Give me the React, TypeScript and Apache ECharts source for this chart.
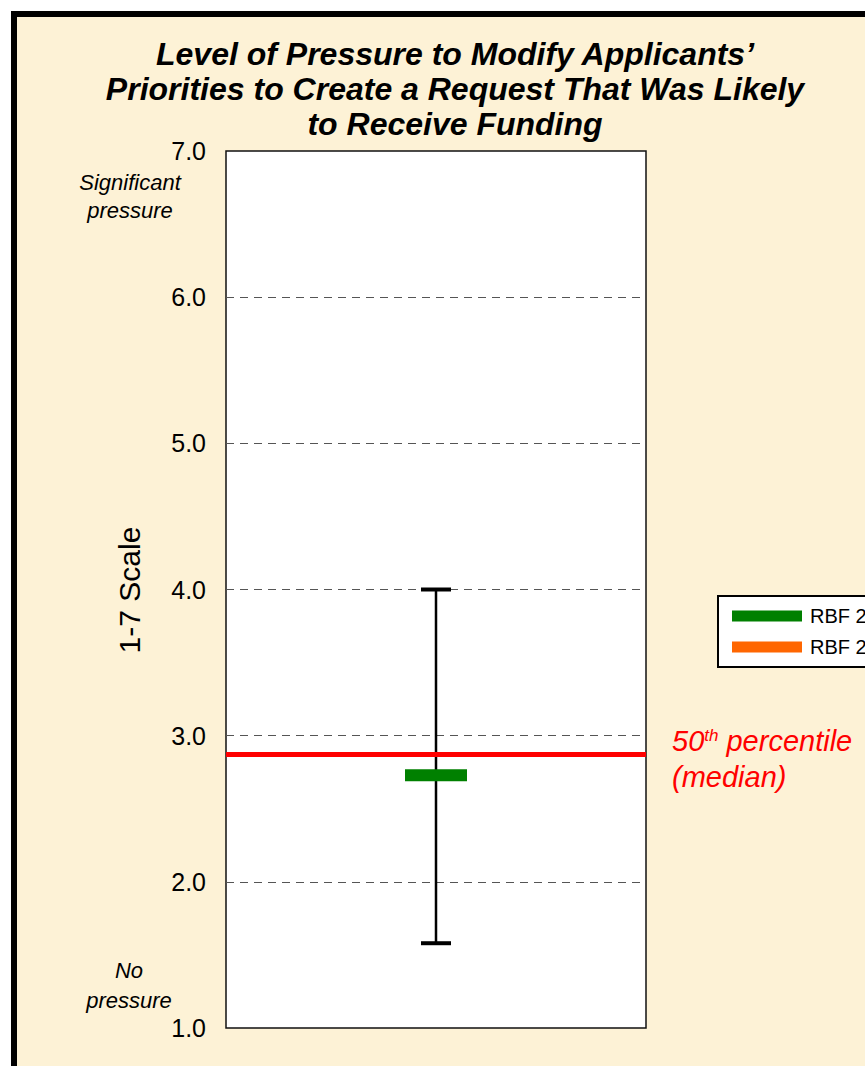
import React, { useEffect, useRef } from "react";
import * as echarts from "echarts";

const titleLines = [
  "Level of Pressure to Modify Applicants’",
  "Priorities to Create a Request That Was Likely",
  "to Receive Funding",
];
const categories = ["RBF"];
const seriesNames = ["RBF 2011", "RBF 2012"];
const meanValues = [2.73];
const lowValues = [1.58];
const highValues = [4.0];
const medianValue = 2.87;
const yMin = 1;
const yMax = 7;
const yInterval = 1;
const topNote = ["Significant", "pressure"];
const bottomNote = ["No", "pressure"];
const axisTitle = "1-7 Scale";

const FONT = "'Liberation Sans', Arial, sans-serif";

export default function App() {
  const ref = useRef<HTMLDivElement>(null);
  useEffect(() => {
    if (!ref.current) return;
    const chart = echarts.init(ref.current, undefined, { renderer: "svg" });
    const errData = categories.map((c, i) => [i, lowValues[i], highValues[i]]);
    const option: any = {
      animation: false,
      backgroundColor: "#ffffff",
      title: {
        text: titleLines.join("\n"),
        left: 450,
        top: 31,
        padding: 5,
        textAlign: "center",
        textStyle: {
          fontFamily: FONT,
          fontSize: 32,
          fontWeight: "bold",
          fontStyle: "italic",
          color: "#000",
          lineHeight: 35,
        },
      },
      legend: {
        orient: "vertical",
        left: 718,
        top: 596,
        padding: [10, 40, 10, 14],
        itemGap: 11,
        itemWidth: 70,
        itemHeight: 11,
        icon: "rect",
        borderColor: "#000",
        borderWidth: 2,
        backgroundColor: "#fff",
        textStyle: { fontFamily: FONT, fontSize: 20, color: "#000", lineHeight: 20, padding: [0, 0, 0, 3] },
        data: seriesNames,
      },
      grid: {
        left: 226,
        right: 219,
        top: 151,
        bottom: 38,
        show: true,
        backgroundColor: "#ffffff",
        borderColor: "#111",
        borderWidth: 1.5,
      },
      xAxis: {
        type: "category",
        data: categories,
        axisLine: { show: false },
        axisTick: { show: false },
        axisLabel: { show: false },
        splitLine: { show: false },
      },
      yAxis: {
        type: "value",
        min: yMin,
        max: yMax,
        interval: yInterval,
        axisLine: { show: false },
        axisTick: { show: false },
        axisLabel: {
          formatter: (v: number) => v.toFixed(1),
          fontFamily: FONT,
          fontSize: 25,
          color: "#000",
          margin: 20,
        },
        splitLine: {
          show: true,
          showMinLine: false,
          showMaxLine: false,
          lineStyle: { color: "#555", width: 1, type: [8, 6] },
        },
      },
      graphic: [
        {
          type: "rect",
          z: -10,
          shape: { x: 14, y: 14, width: 900, height: 1100 },
          style: { fill: "#FDF2D6", stroke: "#000", lineWidth: 6 },
        },
        {
          type: "text",
          x: 129,
          y: 590,
          rotation: Math.PI / 2,
          z: 10,
          style: {
            text: axisTitle,
            fill: "#000",
            font: `30px ${FONT}`,
            align: "center",
            verticalAlign: "middle",
          },
        },
        {
          type: "text",
          x: 130,
          y: 196,
          z: 10,
          style: {
            text: topNote.join("\n"),
            fill: "#000",
            font: `italic 22px ${FONT}`,
            align: "center",
            verticalAlign: "middle",
            lineHeight: 28,
          },
        },
        {
          type: "text",
          x: 129,
          y: 985,
          z: 10,
          style: {
            text: bottomNote.join("\n"),
            fill: "#000",
            font: `italic 22px ${FONT}`,
            align: "center",
            verticalAlign: "middle",
            lineHeight: 30,
          },
        },
        {
          type: "text",
          x: 672,
          y: 741,
          z: 10,
          style: {
            text: "{a|50}{s|th}{a| percentile}",
            align: "left",
            verticalAlign: "middle",
            rich: {
              a: { fontFamily: FONT, fontSize: 29, fontStyle: "italic", fill: "#FF0000", color: "#FF0000" },
              s: { fontFamily: FONT, fontSize: 17, fontStyle: "italic", fill: "#FF0000", color: "#FF0000", verticalAlign: "top" },
            },
          },
        },
        {
          type: "text",
          x: 672,
          y: 777,
          z: 10,
          style: {
            text: "(median)",
            fill: "#FF0000",
            font: `italic 29px ${FONT}`,
            align: "left",
            verticalAlign: "middle",
          },
        },
      ],
      series: [
        {
          type: "custom",
          name: "range",
          z: 2,
          encode: { x: 0, y: [1, 2] },
          data: errData,
          renderItem: (params: any, api: any) => {
            const lo = api.coord([api.value(0), api.value(1)]);
            const hi = api.coord([api.value(0), api.value(2)]);
            const cap = 15;
            return {
              type: "group",
              children: [
                { type: "line", shape: { x1: lo[0], y1: lo[1], x2: hi[0], y2: hi[1] }, style: { stroke: "#000", lineWidth: 2.5 } },
                { type: "line", shape: { x1: hi[0] - cap, y1: hi[1], x2: hi[0] + cap, y2: hi[1] }, style: { stroke: "#000", lineWidth: 4 } },
                { type: "line", shape: { x1: lo[0] - cap, y1: lo[1], x2: lo[0] + cap, y2: lo[1] }, style: { stroke: "#000", lineWidth: 4 } },
              ],
            };
          },
        },
        {
          type: "scatter",
          name: seriesNames[0],
          z: 4,
          symbol: "rect",
          symbolSize: [62, 12],
          itemStyle: { color: "#008000", opacity: 1 },
          data: meanValues,
          markLine: {
            silent: true,
            symbol: ["none", "none"],
            label: { show: false },
            lineStyle: { color: "#FF0000", width: 5, type: "solid" },
            data: [{ yAxis: medianValue }],
          },
        },
        {
          type: "line",
          name: seriesNames[1],
          itemStyle: { color: "#FF6600" },
          lineStyle: { color: "#FF6600" },
          data: [],
        },
      ],
    };
    chart.setOption(option);
    return () => chart.dispose();
  }, []);
  return (
    <div
      ref={ref}
      style={{ position: "absolute", left: 0, top: 0, width: 865, height: 1066 }}
    />
  );
}
